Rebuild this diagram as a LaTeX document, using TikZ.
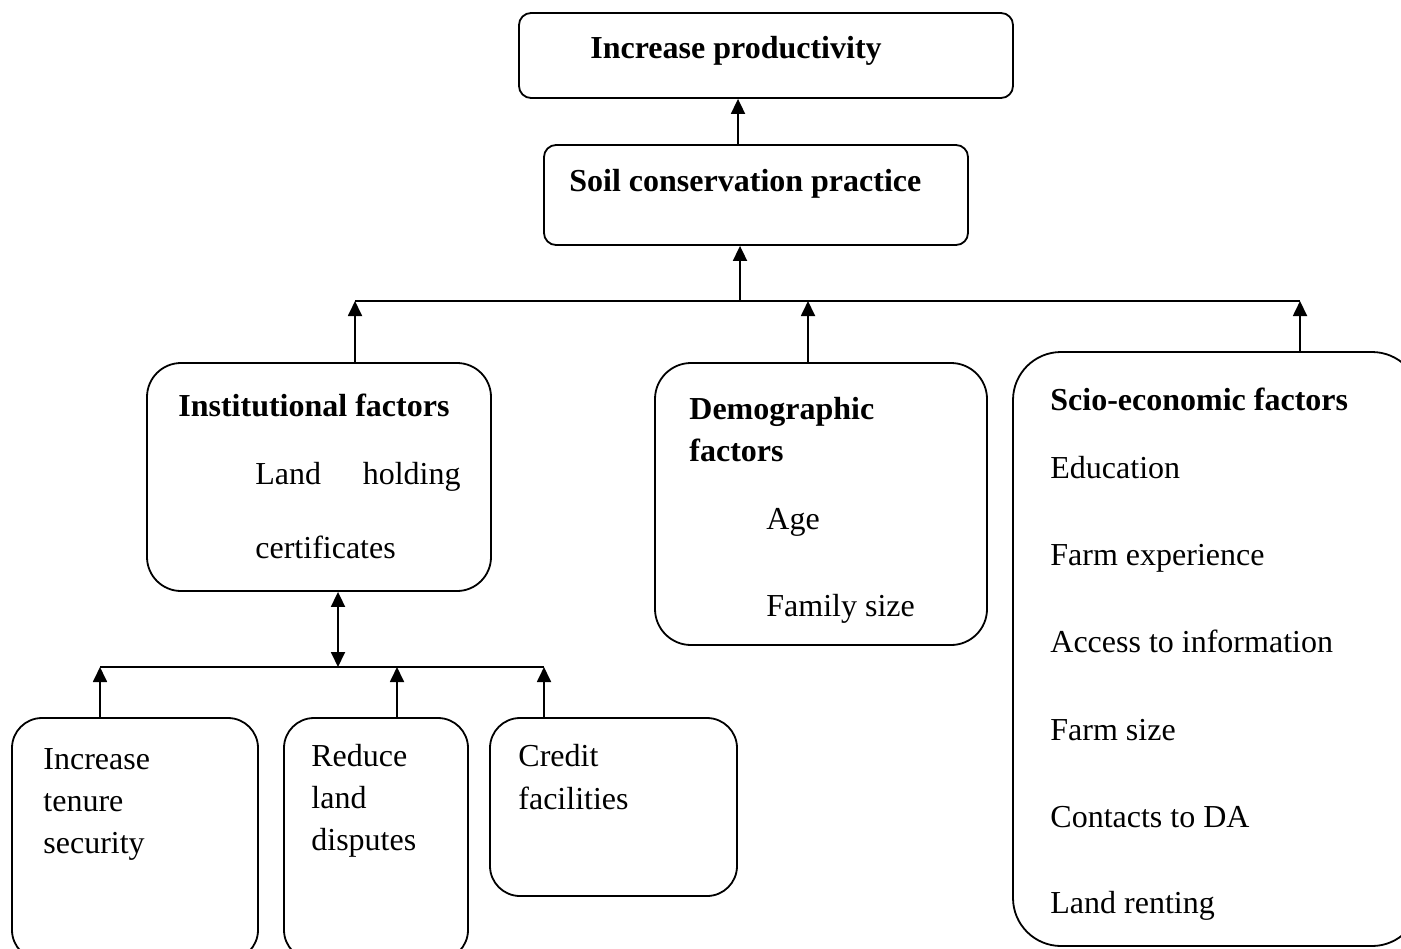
\documentclass[tikz,border=0pt]{standalone}
\usepackage{fontspec}
\setmainfont{Liberation Serif}
\usetikzlibrary{arrows.meta}
\begin{document}
\begin{tikzpicture}[x=0.5pt,y=-0.5pt,
  box/.style={draw,line width=0.9pt,inner sep=0pt},
  lbl/.style={anchor=base west,inner sep=0pt,font=\fontsize{16}{19}\selectfont},
  blbl/.style={lbl,font=\fontsize{16}{19}\selectfont\bfseries},
  conn/.style={line width=0.9pt},
  arr/.style={conn,-{Triangle[length=7.5pt,width=7pt]}},
  darr/.style={conn,{Triangle[length=7.5pt,width=7pt]}-{Triangle[length=7.5pt,width=7pt]}}]
\useasboundingbox (0,0) rectangle (1401,948);
\clip (0,0) rectangle (1401,948);
% boxes
\node[box,rounded corners=6pt,minimum width=247pt,minimum height=42.5pt] (prod) at (766,55.5) {};
\node[box,rounded corners=6pt,minimum width=212pt,minimum height=50pt] (soil) at (756,195) {};
\node[box,rounded corners=17pt,minimum width=172pt,minimum height=114pt] (inst) at (319,477) {};
\node[box,rounded corners=18pt,minimum width=166pt,minimum height=141pt] (demo) at (821,504) {};
\node[box,rounded corners=24pt,minimum width=203.5pt,minimum height=297pt] (socio) at (1216.5,649) {};
\node[box,rounded corners=15pt,minimum width=123pt,minimum height=121pt] (tenure) at (135,839) {};
\node[box,rounded corners=15pt,minimum width=92pt,minimum height=121pt] (reduce) at (376,839) {};
\node[box,rounded corners=15pt,minimum width=123.5pt,minimum height=89pt] (credit) at (613.5,807) {};
% texts
\node[blbl] (tprod) at (590,58) {Increase productivity};
\node[blbl] (tsoil) at (569,191) {Soil conservation practice};
\node[blbl] (tinst) at (178,416) {Institutional factors};
\node[lbl] (tland) at (255,484) {Land};
\node[lbl,anchor=base east] (thold) at (461,484) {holding};
\node[lbl] (tcert) at (255,558) {certificates};
\node[blbl] (tdemo1) at (689,419) {Demographic};
\node[blbl] (tdemo2) at (689,461) {factors};
\node[lbl] (tage) at (766,529) {Age};
\node[lbl] (tfam) at (766,616) {Family size};
\node[blbl] (tsocio) at (1050,410) {Scio-economic factors};
\node[lbl] (s1) at (1050,478.5) {Education};
\node[lbl] (s2) at (1050,565.5) {Farm experience};
\node[lbl] (s3) at (1050,652.5) {Access to information};
\node[lbl] (s4) at (1050,740) {Farm size};
\node[lbl] (s5) at (1050,827) {Contacts to DA};
\node[lbl] (s6) at (1050,913.5) {Land renting};
\node[lbl] (ten1) at (43,769) {Increase};
\node[lbl] (ten2) at (43,811) {tenure};
\node[lbl] (ten3) at (43,853) {security};
\node[lbl] (red1) at (311,766) {Reduce};
\node[lbl] (red2) at (311,808) {land};
\node[lbl] (red3) at (311,850) {disputes};
\node[lbl] (cre1) at (518,766) {Credit};
\node[lbl] (cre2) at (518,809) {facilities};
% upper connectors
\coordinate (ps) at (738,120);
\draw[arr] (ps |- soil.north) -- (ps |- prod.south);
\coordinate (busL) at (355,301);
\coordinate (busS) at (740,301);
\coordinate (busM) at (808,301);
\coordinate (busR) at (1300,301);
\draw[conn] (busL) -- (busR);
\draw[arr] (busS) -- (busS |- soil.south);
\draw[arr] (busL |- inst.north) -- (busL);
\draw[arr] (busM |- demo.north) -- (busM);
\draw[arr] (busR |- socio.north) -- (busR);
% lower connectors
\coordinate (lbL) at (100,667);
\coordinate (lbD) at (338,667);
\coordinate (lbM) at (397,667);
\coordinate (lbR) at (544,667);
\draw[conn] (lbL) -- (lbR);
\draw[darr] (lbD) -- (lbD |- inst.south);
\draw[arr] (lbL |- tenure.north) -- (lbL);
\draw[arr] (lbM |- reduce.north) -- (lbM);
\draw[arr] (lbR |- credit.north) -- (lbR);
\end{tikzpicture}
\end{document}
